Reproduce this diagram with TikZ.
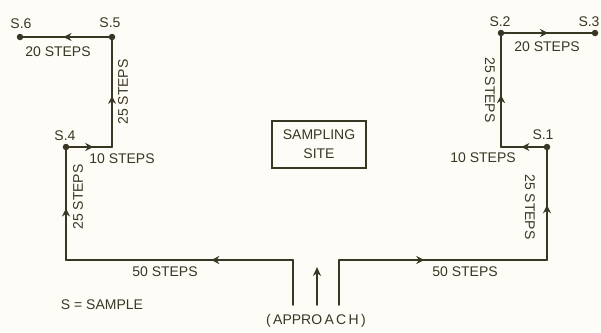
\documentclass[tikz,border=0pt]{standalone}
\usepackage{fontspec}
\setmainfont{Liberation Sans}
\usetikzlibrary{arrows.meta, decorations.markings}
\definecolor{InkBrown}{RGB}{58, 54, 36}
\definecolor{PaperCream}{RGB}{253, 252, 246}

\tikzset{
  walk/.style={InkBrown, line width=1.7pt, line cap=round},
  arrowat/.style={postaction={decorate},
    decoration={markings, mark=at position #1 with {\arrow{Stealth[length=8pt, width=8pt]}}}},
  sample/.style={circle, fill=InkBrown, inner sep=0pt, minimum size=6.5pt},
  steps/.style={font=\fontsize{14}{16}\selectfont, text=InkBrown, inner sep=0pt},
}

\begin{document}
\begin{tikzpicture}[x=1pt, y=-1pt]
    \fill[PaperCream] (0,0) rectangle (601,332);
    \useasboundingbox (0,0) rectangle (601,332);

    % Sample points
    \node[sample] (s1) at (547,147) {};
    \node[sample] (s2) at (501,33) {};
    \node[sample] (s3) at (595,33) {};
    \node[sample] (s4) at (66,147) {};
    \node[sample] (s5) at (112,37) {};
    \node[sample] (s6) at (20,37) {};

    \node[steps] (l1) at (543,135) {S.1};
    \node[steps] (l2) at (500,22) {S.2};
    \node[steps] (l3) at (589,22) {S.3};
    \node[steps] (l4) at (65,136) {S.4};
    \node[steps] (l5) at (110,23) {S.5};
    \node[steps] (l6) at (21,24) {S.6};

    % Corners
    \coordinate (gl) at (293,305);
    \coordinate (glc) at (293,260);
    \coordinate (lb) at (66,260);
    \coordinate (lc) at (112,147);
    \coordinate (gr) at (339,305);
    \coordinate (grc) at (339,260);
    \coordinate (rb) at (547,260);
    \coordinate (rc) at (501,147);

    % Left walk
    \draw[walk] (gl) -- (glc);
    \draw[walk, arrowat=0.36] (glc) -- (lb);
    \draw[walk, arrowat=0.47] (lb) -- (s4);
    \draw[walk, arrowat=0.56] (s4) -- (lc);
    \draw[walk, arrowat=0.48] (lc) -- (s5);
    \draw[walk, arrowat=0.53] (s5) -- (s6);

    % Right walk
    \draw[walk] (gr) -- (grc);
    \draw[walk, arrowat=0.41] (grc) -- (rb);
    \draw[walk, arrowat=0.5] (rb) -- (s1);
    \draw[walk, arrowat=0.52] (s1) -- (rc);
    \draw[walk, arrowat=0.47] (rc) -- (s2);
    \draw[walk, arrowat=0.5] (s2) -- (s3);

    % Approach
    \coordinate (ap1) at (317,305);
    \coordinate (ap2) at (317,267);
    \draw[walk, -{Stealth[length=9pt, width=8pt]}] (ap1) -- (ap2);
    \node[steps] (approach) at (316,321) {(\,APPRO\,A\,C\,H\,)};

    % Site
    \node[steps, draw=InkBrown, line width=1.3pt, minimum width=94pt, minimum height=47pt,
      align=center, font=\fontsize{14}{19}\selectfont] (site) at (319,144.5) {SAMPLING\\SITE};

    % Step counts
    \node[steps] (t50l) at (165,272) {50 STEPS};
    \node[steps] (t50r) at (465,272) {50 STEPS};
    \node[steps] (t10l) at (122,159) {10 STEPS};
    \node[steps] (t10r) at (483,158) {10 STEPS};
    \node[steps] (t20l) at (58,52) {20 STEPS};
    \node[steps] (t20r) at (547,47) {20 STEPS};
    \node[steps, rotate=90] (t25a) at (78,197) {25 STEPS};
    \node[steps, rotate=90] (t25b) at (123,92) {25 STEPS};
    \node[steps, rotate=-90] (t25c) at (530,207) {25 STEPS};
    \node[steps, rotate=-90] (t25d) at (490,90) {25 STEPS};

    \node[steps] (key) at (102,305) {S = SAMPLE};
\end{tikzpicture}
\end{document}
